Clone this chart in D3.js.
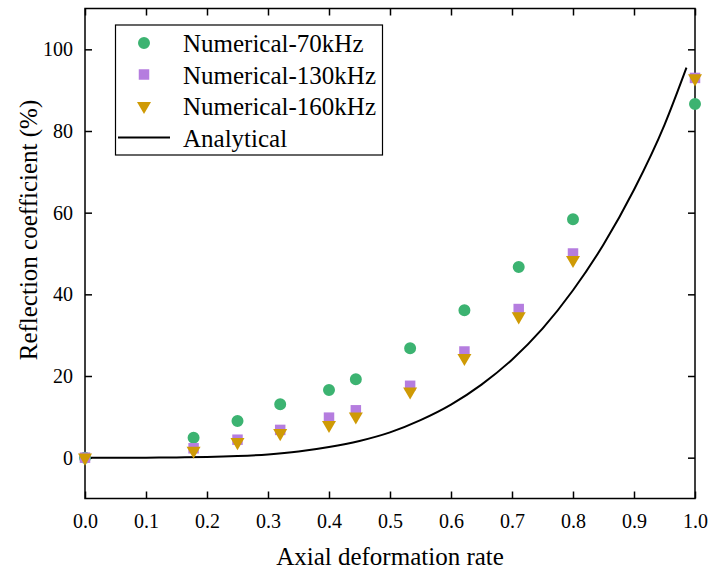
<!DOCTYPE html>
<html>
<head>
<meta charset="utf-8">
<script src="https://cdn.jsdelivr.net/npm/d3@7"></script>
<style>
  body { margin: 0; background: #fff; }
  text { font-family: "Liberation Serif", "Times New Roman", serif; fill: #000; }
</style>
</head>
<body>
<div id="chart"></div>
<script>
// axial deformation rate of each simulated case
var rates = [0, 0.178, 0.25, 0.32, 0.4, 0.444, 0.533, 0.622, 0.711, 0.8, 1.0];
// reflection coefficients (%)
var num70 = [0, 4.9, 9.0, 13.1, 16.6, 19.2, 26.8, 36.1, 46.7, 58.4, 86.6];
var num130 = [0, 2.3, 4.4, 6.8, 9.8, 11.6, 17.6, 26.0, 36.4, 50.0, 93.0];
var num160 = [0, 1.7, 3.8, 6.0, 8.0, 10.1, 16.2, 24.4, 34.6, 48.4, 92.9];
// analytical curve
var anaX = [0, 0.05, 0.1, 0.15, 0.2, 0.25, 0.3, 0.35, 0.4, 0.45, 0.5, 0.55, 0.6, 0.65, 0.7, 0.75, 0.8, 0.85, 0.9, 0.95, 0.986];
var anaY = [0, 0, 0.01, 0.05, 0.16, 0.4, 0.8, 1.5, 2.6, 4.1, 6.2, 9.2, 13.0, 17.9, 24.0, 31.6, 41.0, 52.2, 65.6, 81.5, 95.5];
var xTicks = [0, 0.1, 0.2, 0.3, 0.4, 0.5, 0.6, 0.7, 0.8, 0.9, 1.0];
var yTicks = [0, 20, 40, 60, 80, 100];
var legendNames = ["Numerical-70kHz", "Numerical-130kHz", "Numerical-160kHz", "Analytical"];

var W = 711, H = 575;
var mLeft = 85, mRight = 695, mTop = 8.5, mBottom = 498.5;

var svg = d3.select("#chart").append("svg")
    .attr("width", W)
    .attr("height", H);

var x = d3.scaleLinear().domain([0, 1]).range([mLeft, mRight]);
var y = d3.scaleLinear().domain([-10, 110]).range([mBottom, mTop]);

var green = "#3cb371", purple = "#b57ddf", gold = "#cf9a05";

// axes with inward ticks, mirrored on top and right
svg.append("g")
    .attr("transform", "translate(0," + mBottom + ")")
    .call(d3.axisBottom(x).tickValues(xTicks).tickSize(-7).tickPadding(15).tickFormat(d3.format(".1f")));
svg.append("g")
    .attr("transform", "translate(0," + mTop + ")")
    .call(d3.axisTop(x).tickValues(xTicks).tickSize(-7).tickFormat(""));
svg.append("g")
    .attr("transform", "translate(" + mLeft + ",0)")
    .call(d3.axisLeft(y).tickValues(yTicks).tickSize(-7).tickPadding(12));
svg.append("g")
    .attr("transform", "translate(" + mRight + ",0)")
    .call(d3.axisRight(y).tickValues(yTicks).tickSize(-7).tickFormat(""));

svg.selectAll(".domain").remove();
svg.selectAll(".tick line").attr("stroke", "#000").attr("stroke-width", 1.5);
svg.selectAll(".tick text").style("font-size", "20px").style("font-family", "Liberation Serif");

svg.append("rect")
    .attr("x", mLeft).attr("y", mTop)
    .attr("width", mRight - mLeft).attr("height", mBottom - mTop)
    .attr("fill", "none").attr("stroke", "#000").attr("stroke-width", 1.5);

// analytical line
var line = d3.line()
    .x(function (d, i) { return x(anaX[i]); })
    .y(function (d) { return y(d); })
    .curve(d3.curveMonotoneX);
svg.append("path")
    .attr("d", line(anaY))
    .attr("fill", "none").attr("stroke", "#000").attr("stroke-width", 2);

// numerical markers
var circle = d3.symbol().type(d3.symbolCircle).size(113);
var square = d3.symbol().type(d3.symbolSquare).size(110);
var tri = d3.symbol().type(d3.symbolTriangle).size(85);

function drawSeries(vals, sym, color, rot) {
    svg.append("g").selectAll("path")
        .data(vals)
        .enter().append("path")
        .attr("d", sym)
        .attr("fill", color)
        .attr("transform", function (d, i) {
            return "translate(" + x(rates[i]) + "," + y(d) + ")" + (rot ? " rotate(180)" : "");
        });
}
drawSeries(num70, circle, green, false);
drawSeries(num130, square, purple, false);
drawSeries(num160, tri, gold, true);

// legend
var lg = svg.append("g");
lg.append("rect")
    .attr("x", 115.5).attr("y", 25)
    .attr("width", 267).attr("height", 130)
    .attr("fill", "#fff").attr("stroke", "#000").attr("stroke-width", 1.2);
var rowY = [43, 74.5, 106, 137.5];
var syms = [circle, square, tri];
var cols = [green, purple, gold];
for (var i = 0; i < 3; i++) {
    lg.append("path")
        .attr("d", syms[i])
        .attr("fill", cols[i])
        .attr("transform", "translate(144," + rowY[i] + ")" + (i === 2 ? " rotate(180)" : ""));
}
lg.append("line")
    .attr("x1", 118).attr("x2", 170)
    .attr("y1", rowY[3]).attr("y2", rowY[3])
    .attr("stroke", "#000").attr("stroke-width", 2);
lg.selectAll("text.lab")
    .data(legendNames)
    .enter().append("text")
    .attr("x", 183)
    .attr("y", function (d, i) { return rowY[i] + 9; })
    .style("font-size", "25px")
    .text(function (d) { return d; });

// axis titles
svg.append("text")
    .attr("x", (mLeft + mRight) / 2).attr("y", 565)
    .attr("text-anchor", "middle")
    .style("font-size", "25px")
    .text("Axial deformation rate");
svg.append("text")
    .attr("transform", "translate(37," + 230 + ") rotate(-90)")
    .attr("text-anchor", "middle")
    .style("font-size", "25px")
    .text("Reflection coefficient (%)");
</script>
</body>
</html>
